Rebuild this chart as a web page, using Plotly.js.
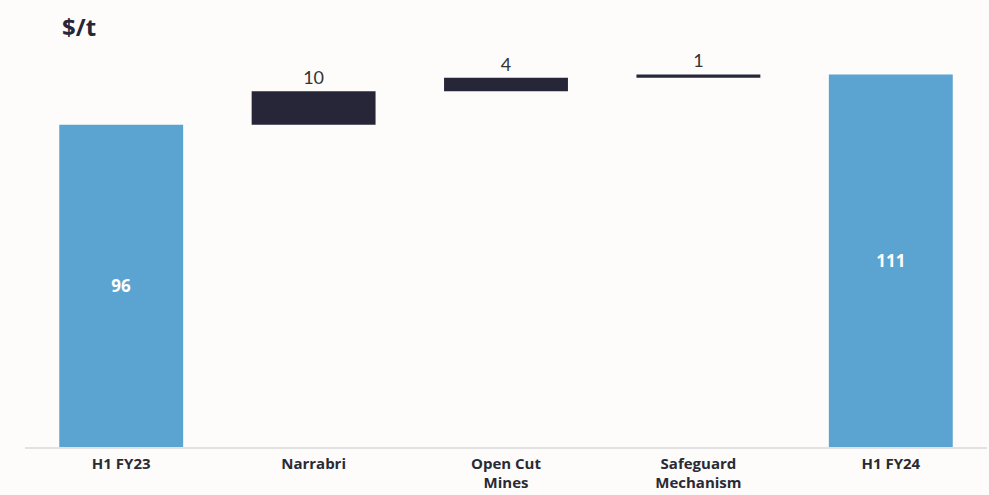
<!DOCTYPE html>
<html><head><meta charset="utf-8">
<script src="https://cdn.plot.ly/plotly-3.0.1.min.js"></script>
<style>html,body{margin:0;padding:0;background:#fdfcfb;}#chart{width:989px;height:495px;}</style>
</head><body><div id="chart"></div>
<script>
var categories = ["H1 FY23", "Narrabri", "Open Cut<br>Mines", "Safeguard<br>Mechanism", "H1 FY24"];
var values = [96, 10, 4, 1, 111];
var measures = ["absolute", "relative", "relative", "relative", "total"];
var labels = ["96", "10", "4", "1", "111"];
var positions = ["inside", "outside", "outside", "outside", "inside"];

var trace = {
  type: "waterfall",
  x: categories,
  y: values,
  measure: measures,
  text: labels,
  textposition: positions,
  insidetextanchor: "middle",
  texttemplate: "%{text}",
  hoverinfo: "skip",
  insidetextfont: {family: "Open Sans, sans-serif", size: 17, color: "#ffffff", weight: 700},
  outsidetextfont: {family: "Lato, sans-serif", size: 18, color: "#333333"},
  cliponaxis: false,
  connector: {visible: false},
  increasing: {marker: {color: "#272638"}},
  decreasing: {marker: {color: "#272638"}},
  totals: {marker: {color: "#5ba3d0"}},
  width: 0.644
};
var layout = {
  width: 989, height: 495,
  margin: {l: 25, r: 2, t: 61, b: 48},
  paper_bgcolor: "#fdfcfb",
  plot_bgcolor: "#fdfcfb",
  showlegend: false,
  xaxis: {
    showgrid: false, zeroline: false,
    showline: true, linecolor: "#e2e2e2", linewidth: 1.5,
    ticks: "", ticklabelstandoff: 2,
    tickfont: {family: "Open Sans, sans-serif", size: 15, color: "#2a2a35", weight: 700}
  },
  yaxis: {
    range: [0, 115], showgrid: false, zeroline: false, showticklabels: false, showline: false
  },
  annotations: [{
    xref: "paper", yref: "paper", x: 0.036, y: 1.09, xanchor: "left", yanchor: "middle",
    text: "$/t", showarrow: false,
    font: {family: "Open Sans, sans-serif", size: 24, color: "#272638", weight: 700}
  }]
};
Plotly.newPlot("chart", [trace], layout, {displayModeBar: false, staticPlot: true});
</script></body></html>
